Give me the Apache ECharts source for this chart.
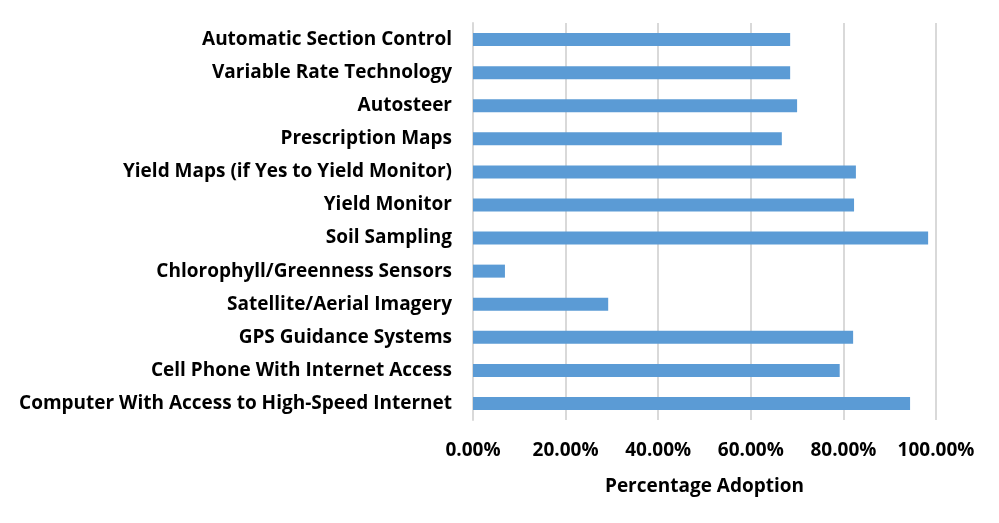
<!DOCTYPE html>
<html>
<head>
<meta charset="utf-8">
<script src="https://cdn.jsdelivr.net/npm/echarts@6/dist/echarts.min.js"></script>
<style>html,body{margin:0;padding:0;background:#fff}#c{width:999px;height:523px}</style>
</head>
<body>
<div id="c"></div>
<script>
const categories = [
  "Automatic Section Control",
  "Variable Rate Technology",
  "Autosteer",
  "Prescription Maps",
  "Yield Maps (if Yes to Yield Monitor)",
  "Yield Monitor",
  "Soil Sampling",
  "Chlorophyll/Greenness Sensors",
  "Satellite/Aerial Imagery",
  "GPS Guidance Systems",
  "Cell Phone With Internet Access",
  "Computer With Access to High-Speed Internet"
];
const adoption = [68.5, 68.5, 70.0, 66.7, 82.7, 82.3, 98.3, 6.9, 29.2, 82.1, 79.2, 94.4];
const axisTitle = "Percentage Adoption";

const FONT = "'Open Sans', 'Noto Sans', sans-serif";
const chart = echarts.init(document.getElementById('c'), null, {renderer: 'canvas'});
chart.setOption({
  animation: false,
  backgroundColor: '#fff',
  grid: {left: 473, right: 63, top: 23, bottom: 103, containLabel: false},
  xAxis: {
    type: 'value', min: 0, max: 100, interval: 20,
    axisLine: {show: false}, axisTick: {show: false},
    splitLine: {show: true, lineStyle: {color: '#d9d9d9', width: 2}},
    axisLabel: {
      formatter: v => v.toFixed(2) + '%', margin: 21,
      color: '#000', fontWeight: 'bold', fontSize: 19, fontFamily: FONT
    },
    name: axisTitle, nameLocation: 'middle', nameGap: 57,
    nameTextStyle: {color: '#000', fontWeight: 'bold', fontSize: 19, fontFamily: FONT}
  },
  yAxis: {
    type: 'category', data: categories, inverse: true,
    axisLine: {show: true, lineStyle: {color: '#d9d9d9', width: 2}},
    axisTick: {show: false},
    axisLabel: {color: '#000', fontWeight: 'bold', fontSize: 19, fontFamily: FONT, margin: 21}
  },
  series: [{
    type: 'bar', data: adoption, barWidth: 13,
    itemStyle: {color: '#5b9bd5'}
  }]
});
</script>
</body>
</html>
